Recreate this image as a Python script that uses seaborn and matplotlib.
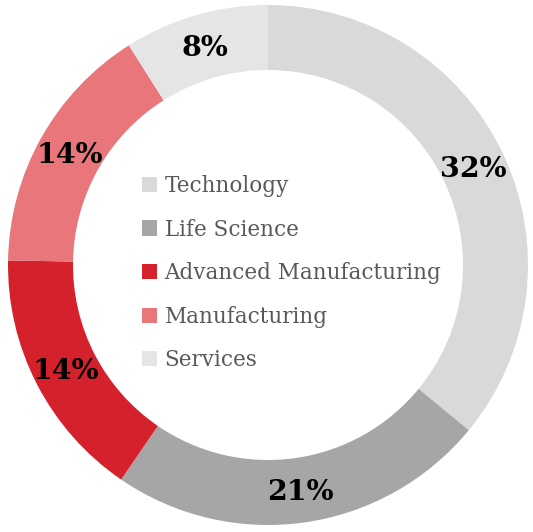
import numpy as np
import matplotlib
matplotlib.use("Agg")
import matplotlib.pyplot as plt
from matplotlib.patches import Patch
import seaborn as sns

# Sector shares (percent) and styling per sector
sectors = ["Technology", "Life Science", "Advanced Manufacturing", "Manufacturing", "Services"]
shares = [32, 21, 14, 14, 8]
palette = ["#d9d9d9", "#a6a6a6", "#d4212b", "#e8767b", "#e5e5e5"]

sns.set_theme(style="white")
plt.rcParams["font.family"] = ["DejaVu Serif", "DejaVu Sans"]

W, H = 533, 532
fig = plt.figure(figsize=(W / 100, H / 100), dpi=100)
fig.patch.set_facecolor("white")

# square axes holding the ring
cx, cy, R = 268, 265, 260
ax = fig.add_axes([(cx - R) / W, (H - cy - R) / H, 2 * R / W, 2 * R / H])
ax.axis("off")

wedges, _ = ax.pie(
    shares,
    colors=sns.color_palette(palette),
    startangle=90,
    counterclock=False,
    radius=1.0,
    wedgeprops=dict(width=0.25, edgecolor="none", linewidth=0),
)
ax.set_xlim(-1, 1)
ax.set_ylim(-1, 1)
ax.set_aspect("equal")

# value labels centred in the ring
for w, v in zip(wedges, shares):
    mid = np.deg2rad((w.theta1 + w.theta2) / 2)
    r = 0.875
    ax.text(r * np.cos(mid), r * np.sin(mid) - 0.008, f"{v}%", ha="center", va="center",
            fontsize=20.5, fontweight="bold", color="black")

handles = [Patch(facecolor=c, edgecolor="none") for c in palette]
leg = ax.legend(
    handles, sectors,
    loc="upper left",
    bbox_to_anchor=((142 - cx + R) / (2 * R), 1 - (175 - cy + R) / (2 * R)),
    frameon=False,
    fontsize=15.5,
    handlelength=0.7,
    handleheight=0.7,
    handletextpad=0.35,
    labelspacing=1.0,
    borderaxespad=0,
    borderpad=0,
)
for t in leg.get_texts():
    t.set_color("#595959")

fig.savefig("out.png", dpi=100, facecolor="white")
